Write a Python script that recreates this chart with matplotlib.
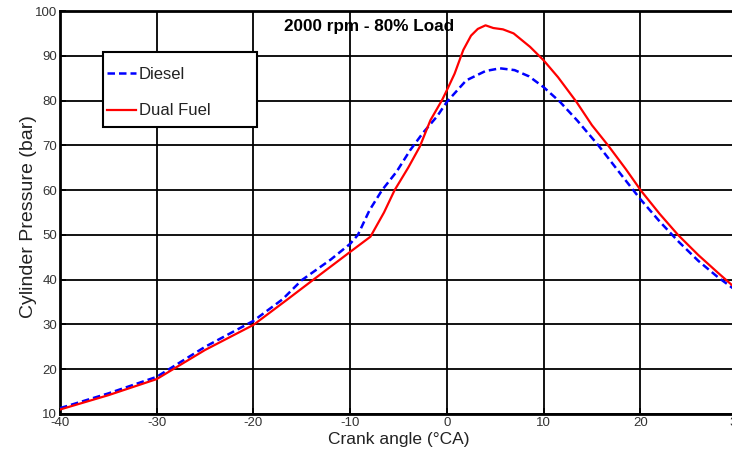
import matplotlib
matplotlib.use("Agg")
import matplotlib.pyplot as plt
from matplotlib.patches import Rectangle

# crank angle (deg) / cylinder pressure (bar)
diesel_ca = [-40, -35, -30, -25, -20, -17, -15, -12, -10, -9.2, -8, -6.7, -5.2, -3.8, -2.5,
             -1, 0, 2, 4, 5.5, 7, 8.5, 10, 11.7, 13.5, 15.7, 18, 20, 22, 24, 26, 28, 30]
diesel_p = [11.3, 14.6, 18.3, 25.0, 30.8, 35.6, 39.9, 44.5, 48.0, 50.0, 55.5, 60.0, 64.1, 68.9, 72.7,
            76.5, 79.7, 84.5, 86.6, 87.2, 86.8, 85.4, 83.0, 79.7, 75.5, 69.9, 63.5, 58.0, 53.0, 48.4, 44.2, 40.6, 37.4]

dual_ca = [-40, -35, -30, -25, -20, -16.6, -13.8, -10, -7.9, -6.5, -5.4, -4, -2.8, -1.7, -0.5,
           0, 0.8, 1.7, 2.5, 3.2, 4, 4.8, 5.8, 6.9, 8.6, 10, 11.5, 13.4, 15, 16.7, 18.5, 20.1,
           22, 23.9, 26, 28, 30]
dual_p = [11.0, 14.2, 17.8, 24.3, 29.9, 35.4, 40.0, 46.2, 49.6, 55.0, 60.0, 65.0, 69.7, 75.6, 80.1,
          82.3, 86.0, 91.3, 94.5, 96.0, 96.8, 96.2, 95.9, 95.0, 92.0, 89.0, 85.2, 79.7, 74.5, 69.9, 64.7, 59.8,
          54.7, 50.0, 45.5, 41.6, 37.8]

xticks = [-40, -30, -20, -10, 0, 10, 20, 30]
yticks = [10, 20, 30, 40, 50, 60, 70, 80, 90, 100]

plt.rcParams['font.family'] = ['Liberation Sans', 'DejaVu Sans']
plt.rcParams['axes.unicode_minus'] = False

W, H = 732, 455
fig = plt.figure(figsize=(W/100, H/100), dpi=100)
ax = fig.add_axes([60/W, 41/H, 677/W, 403/H])

ax.plot(diesel_ca, diesel_p, color='#0000ff', linestyle='--', linewidth=1.8,
        dashes=(3, 1.6), label='Diesel', zorder=3)
ax.plot(dual_ca, dual_p, color='#ff0000', linestyle='-', linewidth=1.6,
        label='Dual Fuel', zorder=3)

ax.set_xlim(-40, 30)
ax.set_ylim(10, 100)
ax.set_xticks(xticks)
ax.set_yticks(yticks)
ax.grid(True, color='black', linewidth=1.3)
ax.tick_params(direction='in', length=4, width=1.3, labelsize=9.5, labelcolor='#333333', pad=2)
for s in ax.spines.values():
    s.set_linewidth(2)

ax.set_xlabel('Crank angle (°CA)', fontsize=12.5, color='#222222', labelpad=2)
ax.set_ylabel('Cylinder Pressure (bar)', fontsize=14, color='#222222')
ax.yaxis.set_label_coords(-23/677, 0.489)

ax.text(369/W, 1 - 27/H, '2000 rpm - 80% Load', transform=fig.transFigure,
        ha='center', va='center', fontsize=12.3, fontweight='bold')

# legend frame drawn separately (the original box is wider than its contents)
ax.add_patch(Rectangle((103/W, 1 - 127/H), 154/W, 75/H, transform=fig.transFigure,
                       facecolor='white', edgecolor='black', linewidth=1.5, zorder=4, clip_on=False))
leg = ax.legend(loc='upper left', bbox_to_anchor=(103/W, 1 - 63/H), bbox_transform=fig.transFigure,
                borderaxespad=0, frameon=False, fontsize=12,
                handlelength=1.7, handletextpad=0.2, labelspacing=1.28, borderpad=0.25)
leg.set_zorder(5)
for t in leg.get_texts():
    t.set_color('#222222')

fig.savefig('out.png', dpi=100)
